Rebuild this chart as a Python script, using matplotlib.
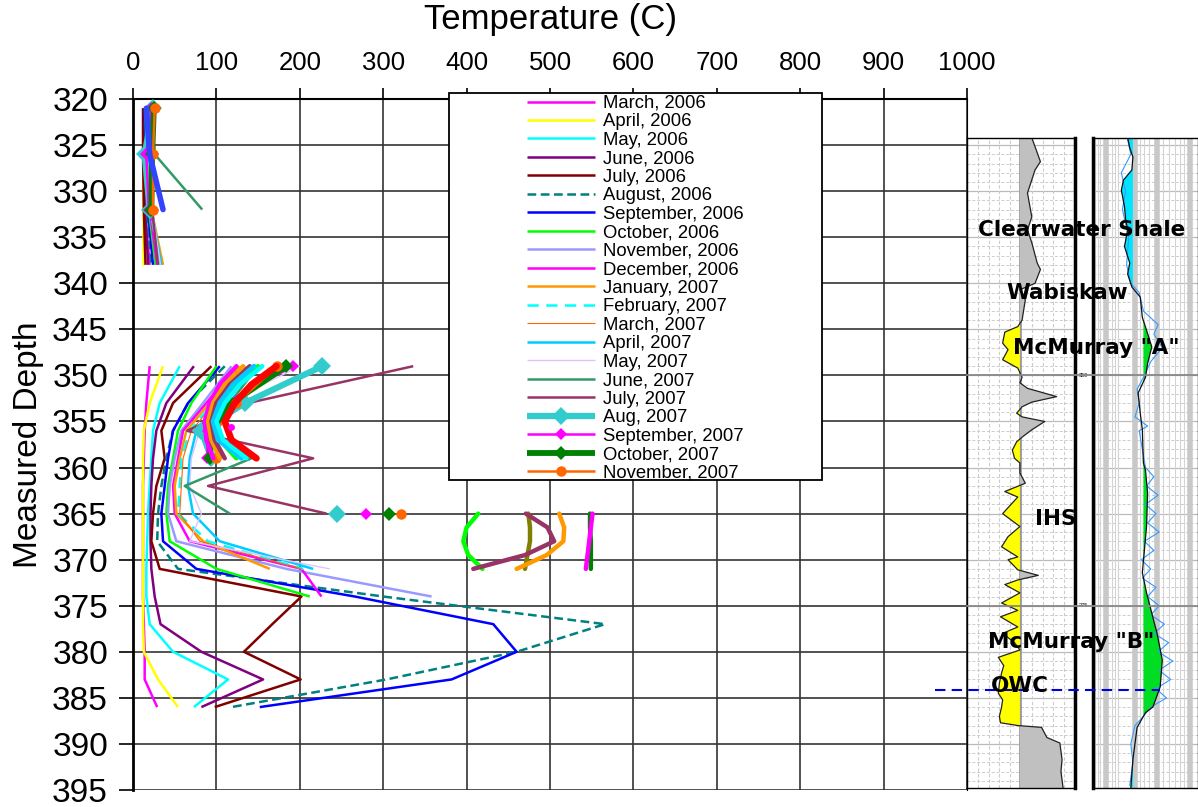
import numpy as np
import matplotlib.pyplot as plt
from matplotlib.patches import Rectangle

plt.rcParams['font.family'] = ['Liberation Sans', 'DejaVu Sans']

N = None
# depth nodes (m) of the thermocouple strings
depth_top = [321, 326, 332, 338]
depth_mid = [349, 353, 356, 359, 362, 365, 368, 371, 374, 377, 380, 383, 386]

# temperatures (C), upper string / lower string
mar06_top = [13, 13, 14, 20]
mar06_mid = [20, 16, 14, 13, 12, 12, 12, 12, 12, 13, 14, 14, 29]
apr06_top = [12, 12, 12, 12]
apr06_mid = [36, 20, 13, 12, 12, 12, 12, 12, 12, 12, 13, 30, 54]
may06_top = [13, 14, 16, 26]
may06_mid = [56, 32, 24, 22, 20, 18, 17, 16, 16, 20, 48, 114, 73]
jun06_top = [13, 13, 15, 18]
jun06_mid = [73, 40, 28, 24, 22, 21, 21, 22, 26, 33, 82, 156, 82]
jul06_top = [12, 12, 13, 15]
jul06_mid = [94, 48, 34, 38, 28, 24, 22, 32, 202, 167, 133, 201, 98]
aug06_top = [14, 15, 17, 22]
aug06_mid = [110, 66, 48, 40, 34, 30, 29, 54, 300, 566, 460, 304, 118]
sep06_top = [14, 15, 18, 24]
sep06_mid = [104, 66, 48, 42, 38, 34, 36, 76, 266, 432, 460, 382, 152]
oct06_top = [15, 16, 19, 27]
oct06_mid = [100, 70, 54, 48, 42, 40, 44, 100, 212]
nov06_top = [16, 17, 21, 30]
nov06_mid = [118, 84, 58, 50, 44, 42, 52, 184, 358]
dec06_top = [16, 17, 20, 29]
dec06_mid = [124, 88, 60, 54, 48, 50, 68, 202, 226]
jan07_top = [17, 18, 22, 36]
jan07_mid = [128, 92, 64, 56, 50, 52, 84, 164]
feb07_top = [17, 18, 21, 32]
feb07_mid = [132, 96, 68, 58, 56, 54, 90, 204]
mar07_top = [18, 19, 22, 33]
mar07_mid = [136, 98, 70, 60, 58, 56, 80, 202]
apr07_top = [18, 19, 22, 34]
apr07_mid = [142, 104, 76, 68, 66, 72, 104, 216]
may07_top = [19, 20, 23, 33]
may07_mid = [200, 112, 80, 70, 68, 82, 68, 236]
jun07_top = [22, 26, 83, N]
jun07_mid = [150, 116, 90, 142, 62, 116]
jul07_top = [20, 21, 23, 30]
jul07_mid = [336, 138, 65, 216, 90, 232]
aug07_top = [24, 14, 20, N]
aug07_mid = [227, 134, 82, 94, N, 245]
sep07_top = [22, 16, 19, N]
sep07_mid = [192, 110, 90, 89, N, 279]
oct07_top = [25, 23, 22, N]
oct07_mid = [184, 118, 95, 92, N, 307]
nov07_top = [26, 24, 24, N]
nov07_mid = [173, 124, 100, 100, N, 321]

labels = ['March, 2006', 'April, 2006', 'May, 2006', 'June, 2006', 'July, 2006',
          'August, 2006', 'September, 2006', 'October, 2006', 'November, 2006',
          'December, 2006', 'January, 2007', 'February, 2007', 'March, 2007',
          'April, 2007', 'May, 2007', 'June, 2007', 'July, 2007', 'Aug, 2007',
          'September, 2007', 'October, 2007', 'November, 2007']
tops = [mar06_top, apr06_top, may06_top, jun06_top, jul06_top, aug06_top, sep06_top,
        oct06_top, nov06_top, dec06_top, jan07_top, feb07_top, mar07_top, apr07_top,
        may07_top, jun07_top, jul07_top, aug07_top, sep07_top, oct07_top, nov07_top]
mids = [mar06_mid, apr06_mid, may06_mid, jun06_mid, jul06_mid, aug06_mid, sep06_mid,
        oct06_mid, nov06_mid, dec06_mid, jan07_mid, feb07_mid, mar07_mid, apr07_mid,
        may07_mid, jun07_mid, jul07_mid, aug07_mid, sep07_mid, oct07_mid, nov07_mid]
colors = ['#FF00FF', '#FFFF00', '#00FFFF', '#800080', '#800000', '#008080', '#0000FF',
          '#00FF00', '#9999FF', '#FF00FF', '#FF9900', '#00FFFF', '#FF6600', '#00CCFF',
          '#DDC4FF', '#339966', '#993366', '#33CCCC', '#FF00FF', '#008000', '#FF6600']
widths = [1.8, 1.8, 1.8, 1.8, 1.8, 1.8, 1.8, 1.8, 1.8, 1.8, 1.8, 1.8, 0.8, 1.8,
          1.0, 1.8, 1.8, 4.5, 1.8, 4.2, 1.8]
dashes = {5: (3.5, 1.8), 11: (4.5, 3.0)}
markers = {17: ('D', 9), 18: ('D', 6), 19: ('D', 7.5), 20: ('o', 7.5)}

# other profiles on the chart without legend entries
blue_top = [16, 20, 36]
bunch_depth = [349, 351, 353, 355, 357, 359]
bunch_colors = ['#FF00FF', '#FF9900', '#993366', '#00FF00', '#00CCFF', '#00FFFF', '#FF0000']
bunch_vals = [[124, 104, 92, 86, 88, 96],
              [132, 110, 96, 90, 94, 104],
              [140, 116, 100, 94, 98, 110],
              [150, 124, 106, 98, 104, 124],
              [145, 120, 104, 96, 102, 130],
              [155, 128, 110, 100, 108, 136],
              [172, 142, 122, 110, 118, 148]]
bunch_widths = [3.2, 3.2, 3.2, 3.2, 3.5, 3.2, 4.8]
right_depth = [365, 366.5, 368, 369.5, 371]
right_colors = ['#00FF00', '#808000', '#993366', '#FF9900', '#008000', '#FF00FF']
right_vals = [[414, 400, 396, 402, 419],
              [474, 476, 476, 473, 470],
              [471, 497, 505, 470, 408],
              [511, 517, 516, 496, 460],
              [548, 548, 549, 549, 549],
              [551, 549, 547, 545, 543]]

# well log: gamma ray track (0-100) and resistivity track (0-100)
gr_depth = [324.2, 326.8, 327.7, 330.2, 332.8, 334.2, 335.6, 337.8, 338.5, 340.0, 340.7,
            341.8, 344.0, 344.7, 345.3, 346.5, 347.2, 348.3, 349.2, 350.2, 350.8, 351.4,
            352.3, 352.9, 353.4, 354.1, 354.5, 355.0, 355.9, 356.7, 357.2, 358.1, 359.0,
            359.5, 360.6, 361.7, 362.6, 363.2, 364.1, 365.0, 366.4, 367.5, 368.6, 369.7,
            370.0, 371.1, 371.7, 372.2, 372.7, 373.6, 374.7, 375.5, 376.2, 377.3, 378.0,
            379.0, 379.8, 380.6, 381.5, 382.3, 383.4, 384.5, 385.2, 386.0, 387.0, 387.7,
            388.0, 388.2, 389.3, 389.9, 391.7, 393.0, 394.8]
gr_val = [60, 68, 63, 56, 60, 56, 60, 65, 68, 63, 49,
          54, 51, 47, 35, 33, 38, 33, 47, 51, 49, 56,
          83, 60, 51, 46, 51, 72, 60, 51, 46, 42, 44,
          49, 49, 54, 35, 47, 40, 33, 49, 38, 32, 47,
          38, 47, 66, 47, 35, 49, 32, 47, 31, 47, 33,
          44, 49, 29, 34, 32, 30, 29, 33, 32, 30, 31,
          47, 69, 74, 86, 88, 87, 89]
gr_cut = 49
rt_depth = [324.2, 325.3, 326.3, 327.7, 328.8, 329.9, 331.7, 333.0, 334.2, 336.0, 337.8,
            339.0, 340.4, 341.5, 343.7, 345.1, 346.9, 348.7, 350.2, 351.9, 354.1, 355.9,
            359.5, 360.3, 362.8, 366.4, 371.4, 373.6, 375.8, 378.0, 380.9, 383.8, 386.0,
            386.6, 388.2, 391.7, 394.8]
rt_val = [33, 35, 38, 37, 29, 27, 30, 31, 33, 30, 35,
          33, 37, 45, 47, 51, 56, 52, 50, 43, 45, 47,
          48, 50, 52, 51, 47, 51, 56, 61, 66, 64, 57,
          50, 42, 38, 36]
rt_cut_low, rt_cut_high = 38, 48
sh_depth = [324.4, 326, 328, 330, 332, 335, 338, 340, 341, 343, 344.5, 345.5, 347, 348.5,
            350, 351.5, 353, 354.5, 355.5, 356, 358, 360, 361, 362, 363, 364, 365, 366,
            367, 368, 369, 370, 371, 372, 373, 374, 375, 376, 377, 378, 379, 380, 381,
            382, 383, 384, 385, 386, 387, 388, 390, 392, 394.5]
sh_val = [33, 36, 27, 31, 28, 34, 32, 36, 44, 48, 62, 58, 66, 55,
          49, 42, 44, 40, 52, 44, 47, 50, 58, 51, 62, 50, 60, 52,
          63, 49, 58, 46, 55, 47, 60, 52, 63, 55, 68, 58, 72, 62, 76,
          63, 74, 60, 70, 55, 48, 40, 36, 38, 35]
zones = ['Clearwater Shale', 'Wabiskaw', 'McMurray "A"', 'IHS', 'McMurray "B"', 'OWC']
zone_depth = [334.2, 341.0, 347.0, 365.6, 378.9, 383.7]
zone_x = [106, 93, 120, 82, 96, 49]
owc_depth = 384.1

fig = plt.figure(figsize=(11.98, 8.07), dpi=100)
ax = fig.add_axes([133 / 1198, 1 - 790 / 807, 834 / 1198, 691 / 807])

for i, lab in enumerate(labels):
    kw = dict(color=colors[i], lw=widths[i], solid_capstyle='butt')
    if i in dashes:
        kw['dashes'] = dashes[i]
    if i in markers:
        kw['marker'], kw['markersize'] = markers[i]
        kw['markeredgewidth'] = 0
    top = np.array(tops[i], dtype=float)
    mid = np.array(mids[i], dtype=float)
    ax.plot(top, depth_top, zorder=3, **kw)
    ax.plot(mid, depth_mid[:len(mid)], label=lab, zorder=3, **kw)

ax.plot(blue_top, depth_top[:3], color='#3344FF', lw=4.0, zorder=3, solid_capstyle='round')
for c, v, w in zip(bunch_colors, bunch_vals, bunch_widths):
    ax.plot(v, bunch_depth, color=c, lw=w, zorder=3, solid_capstyle='round')
ax.plot([118], [355.6], 'o', color='#FF00FF', ms=5, mew=0, zorder=3)
for c, v in zip(right_colors, right_vals):
    ax.plot(v, right_depth, color=c, lw=3.2, zorder=3, solid_capstyle='round')

ax.set_xlim(0, 1000)
ax.set_ylim(395, 320)
ax.set_xticks(np.arange(0, 1001, 100))
ax.set_yticks(np.arange(320, 396, 5))
ax.xaxis.tick_top()
ax.xaxis.set_label_position('top')
ax.set_xlabel('Temperature (C)', fontsize=25, labelpad=16)
ax.set_ylabel('Measured Depth', fontsize=24, labelpad=6)
ax.tick_params(axis='x', labelsize=18.5, length=8, width=1.2, pad=9)
ax.tick_params(axis='y', labelsize=24, length=10, width=1.2, pad=8)
ax.grid(True, color='#333333', lw=1.2)
ax.set_axisbelow(True)
ax.spines['bottom'].set_visible(False)
ax.spines['left'].set_linewidth(2)
ax.spines['top'].set_linewidth(1.5)

frame = Rectangle((0.3789, 0.4486), 0.4472, 0.5601, transform=ax.transAxes,
                  facecolor='white', edgecolor='black', lw=1.3, zorder=8, clip_on=False)
ax.add_patch(frame)
leg = ax.legend(loc='upper left', bbox_to_anchor=(0.4724, 1.0058), borderaxespad=0,
                borderpad=0, frameon=False, fontsize=13.3, handlelength=3.7,
                handletextpad=0.4, labelspacing=0.08)
leg.set_zorder(9)

# well log tracks
yl = (394.78, 324.23)
ax_l = fig.add_axes([967 / 1198, 1 - 788 / 807, 108 / 1198, 650 / 807])
ax_r = fig.add_axes([1093 / 1198, 1 - 788 / 807, 105 / 1198, 650 / 807])
ax_l.set_zorder(2)
ax_r.set_zorder(1)
for a in (ax_l, ax_r):
    a.set_xlim(0, 100)
    a.set_ylim(*yl)
    a.set_xticks([])
    a.set_yticks([])
    for d in np.arange(325, 395, 1):
        a.axhline(d, color='#cccccc', lw=0.7, dashes=(3, 2), zorder=0)
    for d in np.arange(325, 395, 5):
        a.axhline(d, color='#bbbbbb', lw=0.9, zorder=0)
    for s in a.spines.values():
        s.set_linewidth(1.0)

for xg in [10, 20, 30, 40, 60, 70, 80, 90]:
    ax_l.axvline(xg, color='#cccccc', lw=0.8, dashes=(3, 2), zorder=0)
ax_l.axvline(gr_cut, color='#999999', lw=2, zorder=1)
gd = np.array(gr_depth)
gv = np.array(gr_val, dtype=float)
ax_l.fill_betweenx(gd, gv, gr_cut, where=gv >= gr_cut, interpolate=True,
                   color='#C0C0C0', lw=0, zorder=1)
ax_l.fill_betweenx(gd, gv, gr_cut, where=gv <= gr_cut, interpolate=True,
                   color='#FFFF00', lw=0, zorder=1)
ax_l.plot(gv, gd, color='#222222', lw=0.9, zorder=2)
ax_l.spines['right'].set_linewidth(2.5)

for xg in [2, 5, 7, 18, 21, 24, 45, 49, 53, 67, 72, 78, 83, 87]:
    ax_r.axvline(xg, color='#d4d4d4', lw=0.8, zorder=0)
for xg in [12, 40, 61, 92]:
    ax_r.axvline(xg, color='#c8c8c8', lw=4, zorder=0)
rd = np.array(rt_depth)
rv = np.array(rt_val, dtype=float)
ax_r.fill_betweenx(rd, rv, rt_cut_low, where=rv <= rt_cut_low, interpolate=True,
                   color='#00E5FF', lw=0, zorder=1)
ax_r.fill_betweenx(rd, rv, rt_cut_high, where=rv >= rt_cut_high, interpolate=True,
                   color='#00DD22', lw=0, zorder=1)
ax_r.plot(sh_val, sh_depth, color='#3399FF', lw=0.8, zorder=2)
ax_r.plot(rv, rd, color='#111111', lw=0.9, zorder=3)
ax_r.spines['left'].set_linewidth(2.5)

for d in (350, 375):
    ax_l.plot([0, 117], [d, d], color='#888888', lw=1.3, clip_on=False, zorder=4)
    ax_r.axhline(d, color='#888888', lw=1.3, zorder=4)
    ax_l.text(108, d, str(d), fontsize=4, ha='center', va='center', clip_on=False)

for name, d, x in zip(zones, zone_depth, zone_x):
    ax_l.text(x, d, name, fontsize=15.5, fontweight='bold', family='DejaVu Sans',
              ha='center', va='center', clip_on=False, zorder=6)
ax_l.plot([-30, 179], [owc_depth, owc_depth], color='#0000DD', lw=1.5, dashes=(5, 3),
          clip_on=False, zorder=5)

fig.savefig('out.png', dpi=100)
